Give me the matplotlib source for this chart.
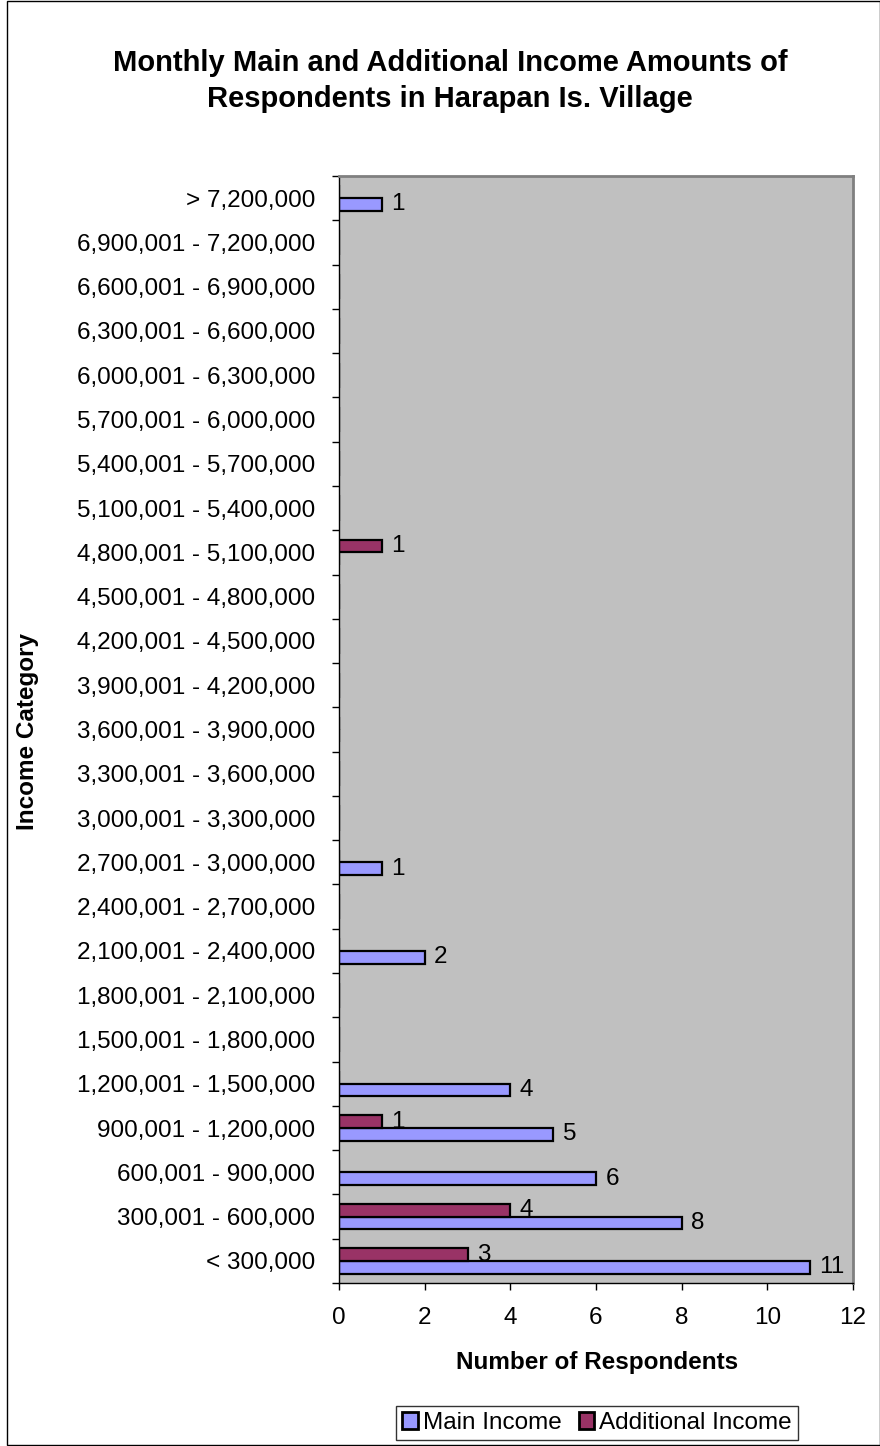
import matplotlib
matplotlib.use("Agg")
import matplotlib.pyplot as plt
import numpy as np
from matplotlib.patches import Rectangle

plt.rcParams['font.family'] = ['Liberation Sans', 'DejaVu Sans']

categories = ["< 300,000", "300,001 - 600,000", "600,001 - 900,000", "900,001 - 1,200,000",
              "1,200,001 - 1,500,000", "1,500,001 - 1,800,000", "1,800,001 - 2,100,000",
              "2,100,001 - 2,400,000", "2,400,001 - 2,700,000", "2,700,001 - 3,000,000",
              "3,000,001 - 3,300,000", "3,300,001 - 3,600,000", "3,600,001 - 3,900,000",
              "3,900,001 - 4,200,000", "4,200,001 - 4,500,000", "4,500,001 - 4,800,000",
              "4,800,001 - 5,100,000", "5,100,001 - 5,400,000", "5,400,001 - 5,700,000",
              "5,700,001 - 6,000,000", "6,000,001 - 6,300,000", "6,300,001 - 6,600,000",
              "6,600,001 - 6,900,000", "6,900,001 - 7,200,000", "> 7,200,000"]
main_income = [11, 8, 6, 5, 4, 0, 0, 2, 0, 1, 0, 0, 0, 0, 0, 0, 0, 0, 0, 0, 0, 0, 0, 0, 1]
additional_income = [3, 4, 0, 1, 0, 0, 0, 0, 0, 0, 0, 0, 0, 0, 0, 0, 1, 0, 0, 0, 0, 0, 0, 0, 0]
x_ticks = [0, 2, 4, 6, 8, 10, 12]

FS = 17.5

fig = plt.figure(figsize=(8.8, 14.46), dpi=100)
fig.patches.append(Rectangle((7/880, 0.0007), 1 - 7.5/880, 0.9986, transform=fig.transFigure,
                             fill=False, edgecolor='black', linewidth=1.0))

ax = fig.add_axes([339/880, 1 - 1283/1446, (853 - 339)/880, (1283 - 176)/1446])
ax.set_facecolor('#C0C0C0')

n = len(categories)
y = np.arange(n)
h = 1 / 3.5
b1 = ax.barh(y - h/2, main_income, height=h, color='#9999FF', edgecolor='black', linewidth=1.6)
b2 = ax.barh(y + h/2, additional_income, height=h, color='#993366', edgecolor='black', linewidth=1.6)

for bars, vals in ((b1, main_income), (b2, additional_income)):
    for bar, v in zip(bars, vals):
        if v > 0:
            ax.text(v + 0.22, bar.get_y() + bar.get_height()/2, str(v),
                    va='center', ha='left', fontsize=FS)

ax.set_xlim(0, 12)
ax.set_ylim(-0.5, n - 0.5)
ax.set_xticks(x_ticks)
ax.set_xticklabels([str(t) for t in x_ticks], fontsize=FS)
ax.set_yticks(y)
ax.set_yticklabels(categories, fontsize=FS)
ax.tick_params(axis='y', length=0, pad=17)
ax.set_yticks(np.arange(n + 1) - 0.5, minor=True)
ax.tick_params(axis='y', which='minor', length=5, width=1, direction='out')
ax.tick_params(axis='x', length=5, width=1, direction='out', pad=12)

for s in ('top', 'right'):
    ax.spines[s].set_color('#808080')
    ax.spines[s].set_linewidth(2)
for s in ('left', 'bottom'):
    ax.spines[s].set_color('black')
    ax.spines[s].set_linewidth(1)

fig.text(450/880, 1 - 81/1446, "Monthly Main and Additional Income Amounts of\nRespondents in Harapan Is. Village",
         ha='center', va='center', fontsize=21, fontweight='bold', linespacing=1.38)
fig.text(28/880, 1 - 731/1446, "Income Category", rotation=90, ha='center', va='center',
         fontsize=17.5, fontweight='bold')
fig.text(597/880, 1 - 1362/1446, "Number of Respondents", ha='center', va='center',
         fontsize=17.5, fontweight='bold')

leg = fig.legend([b1, b2], ["Main Income", "Additional Income"], loc='center',
                 bbox_to_anchor=(597/880, 1 - 1423/1446), ncol=2, fontsize=FS,
                 frameon=True, fancybox=False, handlelength=0.65, handleheight=0.65,
                 handletextpad=0.2, columnspacing=0.7, borderpad=0.25, borderaxespad=0)
leg.get_frame().set_edgecolor('black')
leg.get_frame().set_linewidth(1)
for hnd in leg.legend_handles:
    hnd.set_linewidth(2)

fig.savefig("out.png", dpi=100)
